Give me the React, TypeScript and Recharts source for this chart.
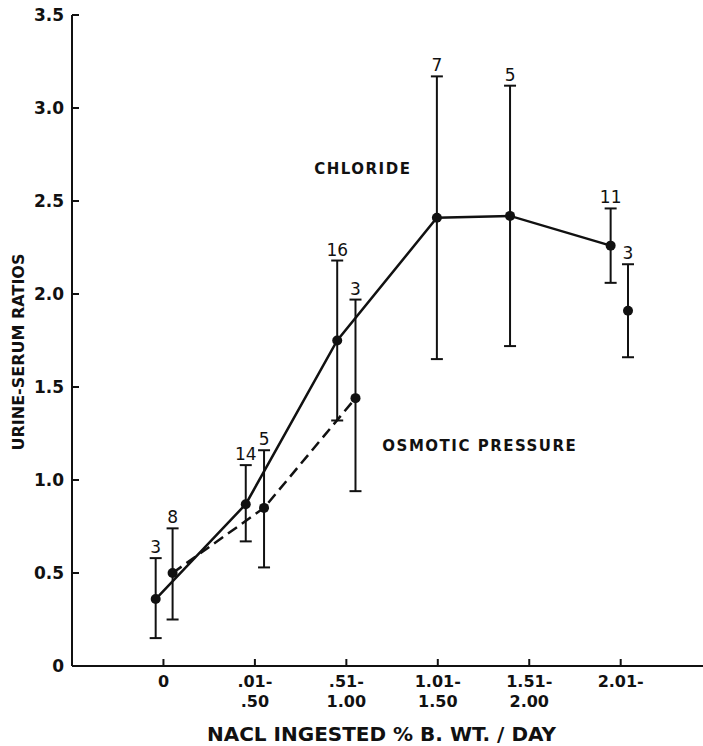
import React from "react";
import {
  ComposedChart,
  Line,
  Scatter,
  XAxis,
  YAxis,
  ErrorBar,
  ReferenceDot,
} from "recharts";

// category positions on the x axis (1..6) and their two-line labels
const categoryTicks = [1, 2, 3, 4, 5, 6];
const categoryTop = ["0", ".01-", ".51-", "1.01-", "1.51-", "2.01-"];
const categoryBottom = ["", ".50", "1.00", "1.50", "2.00", ""];
const yTicks = [0, 0.5, 1, 1.5, 2, 2.5, 3, 3.5];

// chloride (solid line)
const chlorideX = [0.915, 1.9, 2.9, 3.99, 4.79, 5.89];
const chlorideMean = [0.36, 0.87, 1.75, 2.41, 2.42, 2.26];
const chlorideLow = [0.15, 0.67, 1.32, 1.65, 1.72, 2.06];
const chlorideHigh = [0.58, 1.08, 2.18, 3.17, 3.12, 2.46];
const chlorideN = [3, 14, 16, 7, 5, 11];

// osmotic pressure (dashed line, last point not joined)
const osmoticX = [1.1, 2.1, 3.1, 6.08];
const osmoticMean = [0.5, 0.85, 1.44, 1.91];
const osmoticLow = [0.25, 0.53, 0.94, 1.66];
const osmoticHigh = [0.74, 1.16, 1.97, 2.16];
const osmoticN = [8, 5, 3, 3];

const FONT = "'DejaVu Sans', sans-serif";
const INK = "#111";

const build = (xs: number[], mean: number[], low: number[], high: number[], n: number[]) =>
  xs.map((x, i) => ({
    x,
    y: mean[i],
    err: [mean[i] - low[i], high[i] - mean[i]],
    top: high[i],
    n: n[i],
  }));

const chloride = build(chlorideX, chlorideMean, chlorideLow, chlorideHigh, chlorideN);
const osmotic = build(osmoticX, osmoticMean, osmoticLow, osmoticHigh, osmoticN);
const osmoticJoined = osmotic.slice(0, 3);
const counts = [...chloride, ...osmotic].map((d) => ({ x: d.x, y: d.top, n: d.n }));

function Dot(props: any) {
  const { cx, cy } = props;
  if (cx == null || cy == null) return null;
  return <circle cx={cx} cy={cy} r={5} fill={INK} />;
}

function CountLabel(props: any) {
  const { cx, cy, payload } = props;
  return (
    <text
      x={cx}
      y={cy - 5}
      textAnchor="middle"
      fontFamily={FONT}
      fontSize={17}
      fill={INK}
    >
      {payload.n}
    </text>
  );
}

function CategoryTick(props: any) {
  const { x, y, payload } = props;
  const i = categoryTicks.indexOf(payload.value);
  return (
    <g>
      <text x={x} y={y + 21} textAnchor="middle" fontFamily={FONT} fontWeight="bold" fontSize={16} fill={INK}>
        {categoryTop[i]}
      </text>
      <text x={x} y={y + 41} textAnchor="middle" fontFamily={FONT} fontWeight="bold" fontSize={16} fill={INK}>
        {categoryBottom[i]}
      </text>
    </g>
  );
}

const annotation = (text: string) => (p: any) => {
  const { x, y } = p.viewBox;
  return (
    <text
      x={x}
      y={y + 6}
      textAnchor="middle"
      fontFamily={FONT}
      fontWeight="bold"
      fontSize={15}
      letterSpacing={1.5}
      fill={INK}
    >
      {text}
    </text>
  );
};

export default function App() {
  return (
    <div style={{ position: "fixed", left: 0, top: 0, background: "#fff" }}>
      <ComposedChart
        width={703}
        height={746}
        margin={{ top: 15, right: 0, left: 0, bottom: 20 }}
      >
        <XAxis
          dataKey="x"
          type="number"
          domain={[0, 6.9]}
          ticks={categoryTicks}
          allowDataOverflow
          tickSize={-7}
          tickMargin={7}
          height={60}
          axisLine={{ stroke: INK, strokeWidth: 2 }}
          tickLine={{ stroke: INK, strokeWidth: 2 }}
          tick={<CategoryTick />}
          label={{
            content: (p: any) => (
              <text
                x={p.viewBox.x + p.viewBox.width / 2 - 6}
                y={741}
                textAnchor="middle"
                fontFamily={FONT}
                fontWeight="bold"
                fontSize={20}
                fill={INK}
              >
                NACL INGESTED  % B. WT. / DAY
              </text>
            ),
          }}
        />
        <YAxis
          type="number"
          domain={[0, 3.5]}
          ticks={yTicks}
          width={72}
          tickSize={-7}
          tickMargin={15}
          axisLine={{ stroke: INK, strokeWidth: 2 }}
          tickLine={{ stroke: INK, strokeWidth: 2 }}
          tick={{ fill: INK, fontFamily: FONT, fontWeight: "bold", fontSize: 17 }}
          tickFormatter={(v: number) => (v === 0 ? "0" : v.toFixed(1))}
          label={{
            content: () => (
              <text
                transform="translate(24,352) rotate(-90)"
                textAnchor="middle"
                fontFamily={FONT}
                fontWeight="bold"
                fontSize={16}
                fill={INK}
              >
                URINE-SERUM RATIOS
              </text>
            ),
          }}
        />
        <Line
          data={osmoticJoined}
          dataKey="y"
          stroke={INK}
          strokeWidth={2.5}
          strokeDasharray="11 6"
          dot={false}
          isAnimationActive={false}
        />
        <Line
          data={chloride}
          dataKey="y"
          stroke={INK}
          strokeWidth={2.5}
          dot={<Dot />}
          activeDot={false}
          isAnimationActive={false}
        >
          <ErrorBar dataKey="err" direction="y" width={6} stroke={INK} strokeWidth={2} />
        </Line>
        <Scatter data={osmotic} dataKey="y" shape={<Dot />} isAnimationActive={false}>
          <ErrorBar dataKey="err" direction="y" width={6} stroke={INK} strokeWidth={2} />
        </Scatter>
        <Scatter data={counts} dataKey="y" shape={<CountLabel />} isAnimationActive={false} />
        <ReferenceDot
          x={3.18}
          y={2.68}
          r={0}
          stroke="none"
          label={{ content: annotation("CHLORIDE") }}
        />
        <ReferenceDot
          x={4.46}
          y={1.19}
          r={0}
          stroke="none"
          label={{ content: annotation("OSMOTIC PRESSURE") }}
        />
      </ComposedChart>
    </div>
  );
}
